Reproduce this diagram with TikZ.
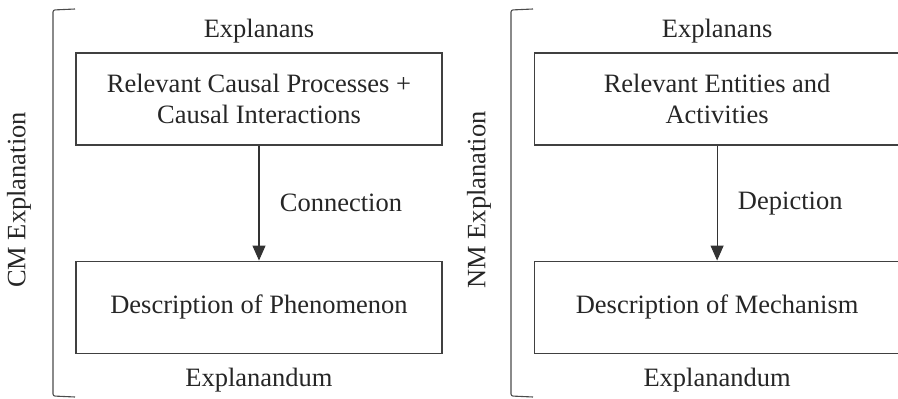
\documentclass[tikz,border=0pt]{standalone}
\usepackage{fontspec}
\setmainfont{Liberation Serif}
\usetikzlibrary{positioning,arrows.meta}

\begin{document}
\begin{tikzpicture}[
  x=1pt, y=-1pt,
  node distance=115pt,
  box/.style={rectangle, draw=black!75, line width=1.1pt, minimum width=366pt, minimum height=92pt, align=center, font=\fontsize{26.5}{31}\selectfont, text=black!85},
  lbl/.style={font=\fontsize{26.5}{31}\selectfont, text=black!85},
  link/.style={draw=black!80, line width=1.1pt, -{Triangle[length=15pt,width=13pt]}},
  brace/.style={draw=black!70, line width=1.1pt, rounded corners=2pt}
]
\useasboundingbox (0,0) rectangle (898,399);

% CM side
\node[box] (cmtop) at (259,99) {Relevant Causal Processes +\\Causal Interactions};
\node[box, below=115pt of cmtop] (cmbot) {Description of Phenomenon};
\node[lbl, above=6pt of cmtop] (cmtoplbl) {Explanans};
\node[lbl, below=11pt of cmbot] (cmbotlbl) {Explanandum};
\draw[link] (cmtop) -- node[lbl, right=17pt] (cmconn) {Connection} (cmbot);

% NM side
\node[box, right=91pt of cmtop] (nmtop) {Relevant Entities and\\Activities};
\node[box, below=115pt of nmtop] (nmbot) {Description of Mechanism};
\node[lbl, above=6pt of nmtop] (nmtoplbl) {Explanans};
\node[lbl, below=11pt of nmbot] (nmbotlbl) {Explanandum};
\draw[link] (nmtop) -- node[lbl, right=17pt] (nmconn) {Depiction} (nmbot);

% brackets
\draw[brace] (75,9) -- (53,10) -- (53,396) -- (75,397);
\draw[brace] (533,9) -- (511,10) -- (511,396) -- (533,397);
\node[lbl, rotate=90] (cmside) at (19,200) {CM Explanation};
\node[lbl, rotate=90] (nmside) at (479,200) {NM Explanation};
\end{tikzpicture}
\end{document}
